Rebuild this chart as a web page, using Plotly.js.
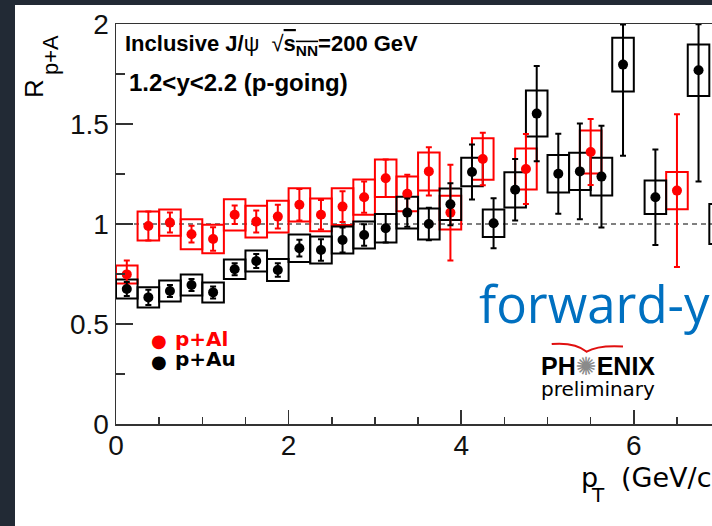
<!DOCTYPE html>
<html>
<head>
<meta charset="utf-8">
<script src="https://cdn.plot.ly/plotly-3.0.1.min.js"></script>
<style>
  html, body { margin:0; padding:0; background:#222a35; overflow:hidden; width:712px; height:526px; }
  #chart { position:absolute; left:15px; top:5px; width:697px; height:521px; background:#fff; }
</style>
</head>
<body>
<div id="chart"></div>
<script>
// ---- data ----
const auPt   = [0.125,0.375,0.625,0.875,1.125,1.375,1.625,1.875,2.125,2.375,2.625,2.875,3.125,3.375,3.625,3.875,4.125,4.375,4.625,4.875,5.125,5.375,5.625,5.875,6.25,6.75,7.0];
const auR    = [0.675,0.633,0.665,0.695,0.658,0.774,0.815,0.770,0.879,0.870,0.920,0.945,0.979,1.057,1.000,1.099,1.260,1.004,1.171,1.552,1.251,1.263,1.237,1.797,1.134,1.769,1.0];
const auStatLo = [0.035,0.038,0.03,0.03,0.03,0.03,0.035,0.034,0.042,0.054,0.063,0.054,0.071,0.071,0.081,0.105,0.138,0.125,0.154,0.238,0.200,0.239,0.254,0.456,0.239,0.556,0.3];
const auStatHi = [0.035,0.038,0.03,0.03,0.03,0.03,0.035,0.034,0.042,0.054,0.063,0.054,0.071,0.071,0.081,0.105,0.138,0.125,0.154,0.238,0.200,0.239,0.254,0.200,0.239,0.230,0.3];
const auSys  = [0.047,0.051,0.052,0.052,0.050,0.049,0.053,0.055,0.069,0.067,0.067,0.067,0.071,0.079,0.078,0.079,0.071,0.069,0.088,0.115,0.094,0.093,0.094,0.134,0.084,0.129,0.10];

const alPt   = [0.125,0.375,0.625,0.875,1.125,1.375,1.625,1.875,2.125,2.375,2.625,2.875,3.125,3.375,3.625,3.875,4.25,4.75,5.5,6.5];
const alR    = [0.748,0.990,1.007,0.949,0.925,1.046,1.012,1.037,1.096,1.046,1.087,1.134,1.229,1.151,1.263,1.057,1.325,1.275,1.360,1.167];
const alStat = [0.070,0.073,0.050,0.042,0.059,0.046,0.055,0.059,0.079,0.074,0.077,0.078,0.094,0.095,0.121,0.239,0.131,0.175,0.165,0.382];
const alSys  = [0.045,0.073,0.066,0.075,0.071,0.078,0.079,0.079,0.083,0.082,0.092,0.088,0.094,0.087,0.095,0.084,0.104,0.102,0.107,0.093];

const binWidth = 0.25;
const xTicks = [0, 2, 4, 6];
const yTicks = [0, 0.5, 1, 1.5, 2];
const yTickText = ["0", "0.5", "1", "1.5", "2"];

// ---- geometry ----
const OX = 15, OY = 5, W = 697, H = 521, ML = 101, MR = 0, MT = 19, MB = 102;
const PW = W - ML - MR, PH = H - MT - MB;
const px = x => (x - OX - ML) / PW;
const py = y => 1 - (y - OY - MT) / PH;
const FONT = "Liberation Sans, Arial, Helvetica, sans-serif";

function sysBoxes(x, y, s, color) {
  return {
    type: 'bar', x: x, y: s.map(v => 2 * v), base: y.map((v, i) => v - s[i]),
    width: x.map(() => binWidth),
    marker: { color: 'rgba(0,0,0,0)', line: { color: color, width: 2 } },
    hoverinfo: 'skip', showlegend: false
  };
}
function points(x, y, hi, lo, color, name) {
  return {
    type: 'scatter', mode: 'markers', x: x, y: y, name: name,
    marker: { color: color, size: 10 },
    error_y: { type: 'data', symmetric: false, array: hi, arrayminus: lo, color: color, thickness: 2, width: 3 },
    showlegend: false
  };
}

const data = [
  sysBoxes(alPt, alR, alSys, '#ff0000'),
  points(alPt, alR, alStat, alStat, '#ff0000', 'p+Al'),
  sysBoxes(auPt, auR, auSys, '#000000'),
  points(auPt, auR, auStatHi, auStatLo, '#000000', 'p+Au')
];

function ann(text, x, y, opts) {
  return Object.assign({
    text: text, x: px(x), y: py(y), xref: 'paper', yref: 'paper', showarrow: false,
    xanchor: 'left', yanchor: 'middle', font: { family: FONT, size: 22, color: '#000' }
  }, opts || {});
}

const annotations = [
  ann("<b>Inclusive J/</b>ψ  √<span style='text-decoration:overline'><b>s<sub>NN</sub></b></span><b>=200 GeV</b>", 123, 45, { font: { family: FONT, size: 22, color: '#000' } }),
  ann("<b>1.2&lt;y&lt;2.2 (p-going)</b>", 127, 82, { font: { family: FONT, size: 24, color: '#000' } }),
  ann("●", 159, 340, { xanchor: 'center', font: { family: 'DejaVu Sans', size: 18, color: '#ff0000' } }),
  ann("●", 159, 361, { xanchor: 'center', font: { family: 'DejaVu Sans', size: 18, color: '#000' } }),
  ann("<b>p+Al</b>", 173, 339, { font: { family: 'DejaVu Sans', size: 20, color: '#ff0000' } }),
  ann("<b>p+Au</b>", 173, 359, { font: { family: 'DejaVu Sans', size: 20, color: '#000' } }),
  ann("forward-y", 477, 303, { font: { family: 'Open Sans', size: 51, color: '#0070C0' } }),
  ann("<b>PH</b><span style='color:#8a8a8a;font-family:DejaVu Sans'>✺</span><b>ENIX</b>", 539, 366, { font: { family: FONT, size: 25, color: '#000' } }),
  ann("preliminary", 539, 389, { font: { family: 'DejaVu Sans', size: 20, color: '#000' } }),
  // x-axis title  p_T (GeV/c)
  ann("p", 579, 477, { font: { family: 'DejaVu Sans', size: 27, color: '#000' } }),
  ann("T", 589, 495, { font: { family: 'DejaVu Sans', size: 20, color: '#000' } }),
  ann("(GeV/c)", 619, 477, { font: { family: 'DejaVu Sans', size: 27, color: '#000' } }),
  // y-axis title  R_{p+A}
  ann("R", 34, 89, { xanchor: 'center', textangle: -90, font: { family: FONT, size: 26, color: '#000' } }),
  ann("p+A", 50, 55, { xanchor: 'center', textangle: -90, font: { family: FONT, size: 22, color: '#000' } })
];

// decorative red swoosh of the logo
const swoosh = `M ${px(551.7)} ${py(344)} Q ${px(575)} ${py(342)} ${px(586.7)} ${py(351.7)} Q ${px(598)} ${py(345)} ${px(623)} ${py(346.5)}`;

const layout = {
  width: W, height: H,
  margin: { l: ML, r: MR, t: MT, b: MB, pad: 0 },
  paper_bgcolor: '#ffffff', plot_bgcolor: '#ffffff',
  barmode: 'overlay', bargap: 0,
  showlegend: false,
  xaxis: {
    range: [0, 6.906], showgrid: false, zeroline: false,
    showline: true, linecolor: '#333', linewidth: 1.5, mirror: true,
    ticks: 'inside', ticklen: 14, tickwidth: 1.5, tickcolor: '#333',
    tickvals: xTicks, ticktext: xTicks.map(String), ticklabelstandoff: -4,
    minor: { dtick: 0.5, ticks: 'inside', ticklen: 7, tickwidth: 1.5, tickcolor: '#333', showgrid: false },
    tickfont: { family: FONT, size: 28, color: '#111' }
  },
  yaxis: {
    range: [0, 2], showgrid: false, zeroline: false,
    showline: true, linecolor: '#333', linewidth: 1.5,
    ticks: 'inside', ticklen: 17, tickwidth: 1.5, tickcolor: '#333',
    tickvals: yTicks, ticktext: yTickText,
    minor: { dtick: 0.25, ticks: 'inside', ticklen: 9, tickwidth: 1.5, tickcolor: '#333', showgrid: false },
    tickfont: { family: FONT, size: 28, color: '#111' }
  },
  shapes: [
    { type: 'line', xref: 'paper', x0: 0, x1: 1, yref: 'y', y0: 1, y1: 1, layer: 'below',
      line: { color: '#000', width: 1, dash: '5px,4px' } },
    { type: 'path', xref: 'paper', yref: 'paper', path: swoosh, line: { color: '#e01010', width: 2 } }
  ],
  annotations: annotations
};

Plotly.newPlot('chart', data, layout, { staticPlot: true, displayModeBar: false });
</script>
</body>
</html>
